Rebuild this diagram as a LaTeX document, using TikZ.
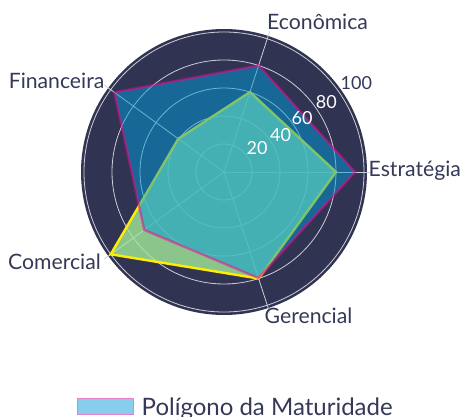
\documentclass[tikz,border=0pt]{standalone}
\usepackage{fontspec}
\setmainfont{Lato}
\definecolor{navy}{RGB}{48,52,82}
\definecolor{txt}{RGB}{52,57,88}
\definecolor{gridc}{RGB}{205,205,215}
\definecolor{yfill}{RGB}{163,234,155}
\definecolor{yline}{RGB}{255,238,0}
\definecolor{pfill}{RGB}{0,156,218}
\definecolor{pline}{RGB}{250,0,140}
\definecolor{legfill}{RGB}{135,206,237}
\definecolor{legline}{RGB}{232,130,200}
\begin{document}
\begin{tikzpicture}[x=1pt,y=1pt,
  axlabel/.style={inner sep=0pt,text=txt,font=\fontsize{21.2}{25}\selectfont},
  ticklabel/.style={inner sep=0pt,text=white,font=\fontsize{18}{22}\selectfont},
  gridline/.style={draw=gridc,line width=0.8pt},
  ytrace/.style={fill=yfill,fill opacity=0.8,draw=yline,draw opacity=1,line width=2.4pt,line join=miter},
  ptrace/.style={fill=pfill,fill opacity=0.5,draw=pline,draw opacity=0.5,line width=2.4pt,line join=miter}]
\useasboundingbox (0,0) rectangle (466,-417);
\begin{scope}[shift={(224,-172)}]
  \fill[navy] (0,0) circle (143);
  \foreach \r in {28,56,84,112,140}
    \draw[gridline] (0,0) circle (\r);
  \coordinate (o) at (0,0);
  \foreach \a/\n in {0/e,72/c,144/f,216/m,288/g}
    \coordinate (s\n) at (\a:148);
  \foreach \n in {e,c,f,m,g}
    \draw[gridline] (o) -- (s\n);
  % yellow trace
  \coordinate (y1) at (0:112);
  \coordinate (y2) at (72:84);
  \coordinate (y3) at (144:56.5);
  \coordinate (y4) at (216:140);
  \coordinate (y5) at (288:112);
  \draw[ytrace] (y1) -- (y2) -- (y3) -- (y4) -- (y5) -- cycle;
  % magenta trace
  \coordinate (p1) at (0:131);
  \coordinate (p2) at (72:112);
  \coordinate (p3) at (144:135.5);
  \coordinate (p4) at (216:98.6);
  \coordinate (p5) at (288:111.5);
  \draw[ptrace] (p1) -- (p2) -- (p3) -- (p4) -- (p5) -- cycle;
\end{scope}
\node[ticklabel] (t20) at (257,-148.5) {20};
\node[ticklabel] (t40) at (280.5,-135) {40};
\node[ticklabel] (t60) at (302,-118.5) {60};
\node[ticklabel] (t80) at (326.3,-102) {80};
\node[ticklabel,text=txt] (t100) at (356.3,-82.8) {100};
\node[axlabel,anchor=base west] (econ) at (267,-29.5) {Econômica};
\node[axlabel,anchor=base east] (fin) at (104.5,-88.3) {Financeira};
\node[axlabel,anchor=base east] (com) at (101,-269) {Comercial};
\node[axlabel,anchor=base west] (est) at (368.5,-176.7) {Estratégia};
\node[axlabel,anchor=base west] (ger) at (264.5,-323.3) {Gerencial};
\draw[fill=legfill,draw=legline,line width=1pt] (77.5,-398.5) rectangle (133.5,-414);
\node[inner sep=0pt,text=txt,font=\fontsize{24}{28}\selectfont,anchor=base west] (leg) at (141.5,-415.5) {Polígono da Maturidade};
\end{tikzpicture}
\end{document}
